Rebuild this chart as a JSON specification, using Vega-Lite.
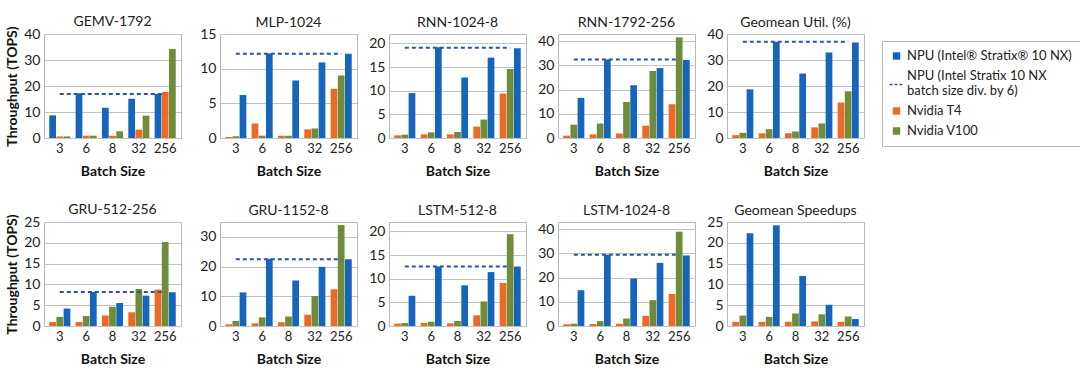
{
  "$schema": "https://vega.github.io/schema/vega-lite/v6.json",
  "padding": {"left": 5, "top": 14, "right": 5, "bottom": 5},
  "background": "white",
  "datasets": {
    "bars": [
      {"panel": "GEMV-1792", "batch": "3", "series": "NPU (Intel® Stratix® 10 NX)", "value": 8.7},
      {"panel": "GEMV-1792", "batch": "3", "series": "Nvidia T4", "value": 0.6},
      {"panel": "GEMV-1792", "batch": "3", "series": "Nvidia V100", "value": 0.6},
      {"panel": "GEMV-1792", "batch": "6", "series": "NPU (Intel® Stratix® 10 NX)", "value": 17.2},
      {"panel": "GEMV-1792", "batch": "6", "series": "Nvidia T4", "value": 0.9},
      {"panel": "GEMV-1792", "batch": "6", "series": "Nvidia V100", "value": 0.9},
      {"panel": "GEMV-1792", "batch": "8", "series": "NPU (Intel® Stratix® 10 NX)", "value": 11.6},
      {"panel": "GEMV-1792", "batch": "8", "series": "Nvidia T4", "value": 0.9},
      {"panel": "GEMV-1792", "batch": "8", "series": "Nvidia V100", "value": 2.6},
      {"panel": "GEMV-1792", "batch": "32", "series": "NPU (Intel® Stratix® 10 NX)", "value": 15.1},
      {"panel": "GEMV-1792", "batch": "32", "series": "Nvidia T4", "value": 3.2},
      {"panel": "GEMV-1792", "batch": "32", "series": "Nvidia V100", "value": 8.6},
      {"panel": "GEMV-1792", "batch": "256", "series": "NPU (Intel® Stratix® 10 NX)", "value": 16.9},
      {"panel": "GEMV-1792", "batch": "256", "series": "Nvidia T4", "value": 17.7},
      {"panel": "GEMV-1792", "batch": "256", "series": "Nvidia V100", "value": 34.2},

      {"panel": "MLP-1024", "batch": "3", "series": "NPU (Intel® Stratix® 10 NX)", "value": 6.2},
      {"panel": "MLP-1024", "batch": "3", "series": "Nvidia T4", "value": 0.15},
      {"panel": "MLP-1024", "batch": "3", "series": "Nvidia V100", "value": 0.25},
      {"panel": "MLP-1024", "batch": "6", "series": "NPU (Intel® Stratix® 10 NX)", "value": 12.2},
      {"panel": "MLP-1024", "batch": "6", "series": "Nvidia T4", "value": 2.1},
      {"panel": "MLP-1024", "batch": "6", "series": "Nvidia V100", "value": 0.33},
      {"panel": "MLP-1024", "batch": "8", "series": "NPU (Intel® Stratix® 10 NX)", "value": 8.3},
      {"panel": "MLP-1024", "batch": "8", "series": "Nvidia T4", "value": 0.33},
      {"panel": "MLP-1024", "batch": "8", "series": "Nvidia V100", "value": 0.33},
      {"panel": "MLP-1024", "batch": "32", "series": "NPU (Intel® Stratix® 10 NX)", "value": 10.9},
      {"panel": "MLP-1024", "batch": "32", "series": "Nvidia T4", "value": 1.25},
      {"panel": "MLP-1024", "batch": "32", "series": "Nvidia V100", "value": 1.38},
      {"panel": "MLP-1024", "batch": "256", "series": "NPU (Intel® Stratix® 10 NX)", "value": 12.15},
      {"panel": "MLP-1024", "batch": "256", "series": "Nvidia T4", "value": 7.1},
      {"panel": "MLP-1024", "batch": "256", "series": "Nvidia V100", "value": 9.0},

      {"panel": "RNN-1024-8", "batch": "3", "series": "NPU (Intel® Stratix® 10 NX)", "value": 9.5},
      {"panel": "RNN-1024-8", "batch": "3", "series": "Nvidia T4", "value": 0.56},
      {"panel": "RNN-1024-8", "batch": "3", "series": "Nvidia V100", "value": 0.7},
      {"panel": "RNN-1024-8", "batch": "6", "series": "NPU (Intel® Stratix® 10 NX)", "value": 19.2},
      {"panel": "RNN-1024-8", "batch": "6", "series": "Nvidia T4", "value": 0.77},
      {"panel": "RNN-1024-8", "batch": "6", "series": "Nvidia V100", "value": 1.2},
      {"panel": "RNN-1024-8", "batch": "8", "series": "NPU (Intel® Stratix® 10 NX)", "value": 12.8},
      {"panel": "RNN-1024-8", "batch": "8", "series": "Nvidia T4", "value": 0.77},
      {"panel": "RNN-1024-8", "batch": "8", "series": "Nvidia V100", "value": 1.26},
      {"panel": "RNN-1024-8", "batch": "32", "series": "NPU (Intel® Stratix® 10 NX)", "value": 17.0},
      {"panel": "RNN-1024-8", "batch": "32", "series": "Nvidia T4", "value": 2.4},
      {"panel": "RNN-1024-8", "batch": "32", "series": "Nvidia V100", "value": 3.9},
      {"panel": "RNN-1024-8", "batch": "256", "series": "NPU (Intel® Stratix® 10 NX)", "value": 19.0},
      {"panel": "RNN-1024-8", "batch": "256", "series": "Nvidia T4", "value": 9.4},
      {"panel": "RNN-1024-8", "batch": "256", "series": "Nvidia V100", "value": 14.6},

      {"panel": "RNN-1792-256", "batch": "3", "series": "NPU (Intel® Stratix® 10 NX)", "value": 16.6},
      {"panel": "RNN-1792-256", "batch": "3", "series": "Nvidia T4", "value": 0.96},
      {"panel": "RNN-1792-256", "batch": "3", "series": "Nvidia V100", "value": 5.5},
      {"panel": "RNN-1792-256", "batch": "6", "series": "NPU (Intel® Stratix® 10 NX)", "value": 32.5},
      {"panel": "RNN-1792-256", "batch": "6", "series": "Nvidia T4", "value": 1.5},
      {"panel": "RNN-1792-256", "batch": "6", "series": "Nvidia V100", "value": 6.0},
      {"panel": "RNN-1792-256", "batch": "8", "series": "NPU (Intel® Stratix® 10 NX)", "value": 21.8},
      {"panel": "RNN-1792-256", "batch": "8", "series": "Nvidia T4", "value": 1.9},
      {"panel": "RNN-1792-256", "batch": "8", "series": "Nvidia V100", "value": 14.9},
      {"panel": "RNN-1792-256", "batch": "32", "series": "NPU (Intel® Stratix® 10 NX)", "value": 28.9},
      {"panel": "RNN-1792-256", "batch": "32", "series": "Nvidia T4", "value": 5.1},
      {"panel": "RNN-1792-256", "batch": "32", "series": "Nvidia V100", "value": 27.7},
      {"panel": "RNN-1792-256", "batch": "256", "series": "NPU (Intel® Stratix® 10 NX)", "value": 32.2},
      {"panel": "RNN-1792-256", "batch": "256", "series": "Nvidia T4", "value": 14.0},
      {"panel": "RNN-1792-256", "batch": "256", "series": "Nvidia V100", "value": 41.6},

      {"panel": "Geomean Util. (%)", "batch": "3", "series": "NPU (Intel® Stratix® 10 NX)", "value": 18.7},
      {"panel": "Geomean Util. (%)", "batch": "3", "series": "Nvidia T4", "value": 1.1},
      {"panel": "Geomean Util. (%)", "batch": "3", "series": "Nvidia V100", "value": 2.0},
      {"panel": "Geomean Util. (%)", "batch": "6", "series": "NPU (Intel® Stratix® 10 NX)", "value": 37.0},
      {"panel": "Geomean Util. (%)", "batch": "6", "series": "Nvidia T4", "value": 1.8},
      {"panel": "Geomean Util. (%)", "batch": "6", "series": "Nvidia V100", "value": 3.4},
      {"panel": "Geomean Util. (%)", "batch": "8", "series": "NPU (Intel® Stratix® 10 NX)", "value": 24.8},
      {"panel": "Geomean Util. (%)", "batch": "8", "series": "Nvidia T4", "value": 1.8},
      {"panel": "Geomean Util. (%)", "batch": "8", "series": "Nvidia V100", "value": 2.5},
      {"panel": "Geomean Util. (%)", "batch": "32", "series": "NPU (Intel® Stratix® 10 NX)", "value": 32.9},
      {"panel": "Geomean Util. (%)", "batch": "32", "series": "Nvidia T4", "value": 4.1},
      {"panel": "Geomean Util. (%)", "batch": "32", "series": "Nvidia V100", "value": 5.6},
      {"panel": "Geomean Util. (%)", "batch": "256", "series": "NPU (Intel® Stratix® 10 NX)", "value": 36.7},
      {"panel": "Geomean Util. (%)", "batch": "256", "series": "Nvidia T4", "value": 13.7},
      {"panel": "Geomean Util. (%)", "batch": "256", "series": "Nvidia V100", "value": 18.0},

      {"panel": "GRU-512-256", "batch": "3", "series": "NPU (Intel® Stratix® 10 NX)", "value": 4.2},
      {"panel": "GRU-512-256", "batch": "3", "series": "Nvidia T4", "value": 0.96},
      {"panel": "GRU-512-256", "batch": "3", "series": "Nvidia V100", "value": 2.2},
      {"panel": "GRU-512-256", "batch": "6", "series": "NPU (Intel® Stratix® 10 NX)", "value": 8.2},
      {"panel": "GRU-512-256", "batch": "6", "series": "Nvidia T4", "value": 0.96},
      {"panel": "GRU-512-256", "batch": "6", "series": "Nvidia V100", "value": 2.4},
      {"panel": "GRU-512-256", "batch": "8", "series": "NPU (Intel® Stratix® 10 NX)", "value": 5.5},
      {"panel": "GRU-512-256", "batch": "8", "series": "Nvidia T4", "value": 2.5},
      {"panel": "GRU-512-256", "batch": "8", "series": "Nvidia V100", "value": 4.6},
      {"panel": "GRU-512-256", "batch": "32", "series": "NPU (Intel® Stratix® 10 NX)", "value": 7.3},
      {"panel": "GRU-512-256", "batch": "32", "series": "Nvidia T4", "value": 3.3},
      {"panel": "GRU-512-256", "batch": "32", "series": "Nvidia V100", "value": 8.9},
      {"panel": "GRU-512-256", "batch": "256", "series": "NPU (Intel® Stratix® 10 NX)", "value": 8.1},
      {"panel": "GRU-512-256", "batch": "256", "series": "Nvidia T4", "value": 8.8},
      {"panel": "GRU-512-256", "batch": "256", "series": "Nvidia V100", "value": 20.2},

      {"panel": "GRU-1152-8", "batch": "3", "series": "NPU (Intel® Stratix® 10 NX)", "value": 11.3},
      {"panel": "GRU-1152-8", "batch": "3", "series": "Nvidia T4", "value": 0.56},
      {"panel": "GRU-1152-8", "batch": "3", "series": "Nvidia V100", "value": 1.7},
      {"panel": "GRU-1152-8", "batch": "6", "series": "NPU (Intel® Stratix® 10 NX)", "value": 22.6},
      {"panel": "GRU-1152-8", "batch": "6", "series": "Nvidia T4", "value": 0.9},
      {"panel": "GRU-1152-8", "batch": "6", "series": "Nvidia V100", "value": 2.9},
      {"panel": "GRU-1152-8", "batch": "8", "series": "NPU (Intel® Stratix® 10 NX)", "value": 15.3},
      {"panel": "GRU-1152-8", "batch": "8", "series": "Nvidia T4", "value": 1.3},
      {"panel": "GRU-1152-8", "batch": "8", "series": "Nvidia V100", "value": 3.2},
      {"panel": "GRU-1152-8", "batch": "32", "series": "NPU (Intel® Stratix® 10 NX)", "value": 19.9},
      {"panel": "GRU-1152-8", "batch": "32", "series": "Nvidia T4", "value": 3.8},
      {"panel": "GRU-1152-8", "batch": "32", "series": "Nvidia V100", "value": 10.1},
      {"panel": "GRU-1152-8", "batch": "256", "series": "NPU (Intel® Stratix® 10 NX)", "value": 22.5},
      {"panel": "GRU-1152-8", "batch": "256", "series": "Nvidia T4", "value": 12.4},
      {"panel": "GRU-1152-8", "batch": "256", "series": "Nvidia V100", "value": 34.0},

      {"panel": "LSTM-512-8", "batch": "3", "series": "NPU (Intel® Stratix® 10 NX)", "value": 6.4},
      {"panel": "LSTM-512-8", "batch": "3", "series": "Nvidia T4", "value": 0.5},
      {"panel": "LSTM-512-8", "batch": "3", "series": "Nvidia V100", "value": 0.63},
      {"panel": "LSTM-512-8", "batch": "6", "series": "NPU (Intel® Stratix® 10 NX)", "value": 12.6},
      {"panel": "LSTM-512-8", "batch": "6", "series": "Nvidia T4", "value": 0.63},
      {"panel": "LSTM-512-8", "batch": "6", "series": "Nvidia V100", "value": 0.9},
      {"panel": "LSTM-512-8", "batch": "8", "series": "NPU (Intel® Stratix® 10 NX)", "value": 8.6},
      {"panel": "LSTM-512-8", "batch": "8", "series": "Nvidia T4", "value": 0.56},
      {"panel": "LSTM-512-8", "batch": "8", "series": "Nvidia V100", "value": 1.05},
      {"panel": "LSTM-512-8", "batch": "32", "series": "NPU (Intel® Stratix® 10 NX)", "value": 11.4},
      {"panel": "LSTM-512-8", "batch": "32", "series": "Nvidia T4", "value": 2.25},
      {"panel": "LSTM-512-8", "batch": "32", "series": "Nvidia V100", "value": 5.2},
      {"panel": "LSTM-512-8", "batch": "256", "series": "NPU (Intel® Stratix® 10 NX)", "value": 12.6},
      {"panel": "LSTM-512-8", "batch": "256", "series": "Nvidia T4", "value": 9.1},
      {"panel": "LSTM-512-8", "batch": "256", "series": "Nvidia V100", "value": 19.4},

      {"panel": "LSTM-1024-8", "batch": "3", "series": "NPU (Intel® Stratix® 10 NX)", "value": 14.8},
      {"panel": "LSTM-1024-8", "batch": "3", "series": "Nvidia T4", "value": 0.7},
      {"panel": "LSTM-1024-8", "batch": "3", "series": "Nvidia V100", "value": 0.95},
      {"panel": "LSTM-1024-8", "batch": "6", "series": "NPU (Intel® Stratix® 10 NX)", "value": 29.5},
      {"panel": "LSTM-1024-8", "batch": "6", "series": "Nvidia T4", "value": 0.8},
      {"panel": "LSTM-1024-8", "batch": "6", "series": "Nvidia V100", "value": 2.0},
      {"panel": "LSTM-1024-8", "batch": "8", "series": "NPU (Intel® Stratix® 10 NX)", "value": 19.6},
      {"panel": "LSTM-1024-8", "batch": "8", "series": "Nvidia T4", "value": 0.95},
      {"panel": "LSTM-1024-8", "batch": "8", "series": "Nvidia V100", "value": 3.1},
      {"panel": "LSTM-1024-8", "batch": "32", "series": "NPU (Intel® Stratix® 10 NX)", "value": 26.1},
      {"panel": "LSTM-1024-8", "batch": "32", "series": "Nvidia T4", "value": 4.2},
      {"panel": "LSTM-1024-8", "batch": "32", "series": "Nvidia V100", "value": 10.7},
      {"panel": "LSTM-1024-8", "batch": "256", "series": "NPU (Intel® Stratix® 10 NX)", "value": 29.1},
      {"panel": "LSTM-1024-8", "batch": "256", "series": "Nvidia T4", "value": 13.2},
      {"panel": "LSTM-1024-8", "batch": "256", "series": "Nvidia V100", "value": 39.0},

      {"panel": "Geomean Speedups", "batch": "3", "series": "NPU (Intel® Stratix® 10 NX)", "value": 22.3},
      {"panel": "Geomean Speedups", "batch": "3", "series": "Nvidia T4", "value": 1.0},
      {"panel": "Geomean Speedups", "batch": "3", "series": "Nvidia V100", "value": 2.5},
      {"panel": "Geomean Speedups", "batch": "6", "series": "NPU (Intel® Stratix® 10 NX)", "value": 24.2},
      {"panel": "Geomean Speedups", "batch": "6", "series": "Nvidia T4", "value": 1.0},
      {"panel": "Geomean Speedups", "batch": "6", "series": "Nvidia V100", "value": 2.2},
      {"panel": "Geomean Speedups", "batch": "8", "series": "NPU (Intel® Stratix® 10 NX)", "value": 12.0},
      {"panel": "Geomean Speedups", "batch": "8", "series": "Nvidia T4", "value": 1.0},
      {"panel": "Geomean Speedups", "batch": "8", "series": "Nvidia V100", "value": 3.0},
      {"panel": "Geomean Speedups", "batch": "32", "series": "NPU (Intel® Stratix® 10 NX)", "value": 5.1},
      {"panel": "Geomean Speedups", "batch": "32", "series": "Nvidia T4", "value": 1.1},
      {"panel": "Geomean Speedups", "batch": "32", "series": "Nvidia V100", "value": 2.8},
      {"panel": "Geomean Speedups", "batch": "256", "series": "NPU (Intel® Stratix® 10 NX)", "value": 1.7},
      {"panel": "Geomean Speedups", "batch": "256", "series": "Nvidia T4", "value": 1.0},
      {"panel": "Geomean Speedups", "batch": "256", "series": "Nvidia V100", "value": 2.3}
    ],
    "dash": [
      {"panel": "GEMV-1792", "value": 16.9},
      {"panel": "MLP-1024", "value": 12.15},
      {"panel": "RNN-1024-8", "value": 19.1},
      {"panel": "RNN-1792-256", "value": 32.5},
      {"panel": "Geomean Util. (%)", "value": 37.0},
      {"panel": "GRU-512-256", "value": 8.2},
      {"panel": "GRU-1152-8", "value": 22.5},
      {"panel": "LSTM-512-8", "value": 12.6},
      {"panel": "LSTM-1024-8", "value": 29.5}
    ]
  },
  "vconcat": [
    {"hconcat": [
      {"title": {"text": "GEMV-1792", "offset": -3}, "width": 137, "height": 104, "layer": [
        {"data": {"name": "bars"}, "transform": [{"filter": {"field": "panel", "equal": "GEMV-1792"}}], "mark": "bar",
         "encoding": {
           "x": {"field": "batch", "type": "nominal", "sort": ["3","6","8","32","256"], "title": "Batch Size"},
           "xOffset": {"field": "series", "type": "nominal", "scale": {"domain": ["NPU (Intel® Stratix® 10 NX)","Nvidia T4","Nvidia V100"]}},
           "y": {"field": "value", "type": "quantitative", "title": "Throughput (TOPS)", "scale": {"domain": [0,40], "nice": false}, "axis": {"values": [0,10,20,30,40]}},
           "color": {"field": "series", "type": "nominal",
             "scale": {"domain": ["NPU (Intel® Stratix® 10 NX)","NPU (Intel Stratix 10 NX batch size div. by 6)","Nvidia T4","Nvidia V100"], "range": ["#1565bd","#2a5599","#ec6a26","#6f8c3b"]},
             "legend": {"title": null, "orient": "none", "legendX": 838, "legendY": 7, "strokeColor": "#b5b5b5", "padding": 8,
               "labelFontSize": 13, "labelColor": "#222", "rowPadding": 6, "symbolType": "square", "symbolSize": 55, "labelLimit": 300,
               "labelExpr": "datum.value == 'NPU (Intel Stratix 10 NX batch size div. by 6)' ? ['NPU (Intel Stratix 10 NX', 'batch size div. by 6)'] : datum.label",
               "encode": {"symbols": {"update": {
                 "shape": {"signal": "datum.value == 'NPU (Intel Stratix 10 NX batch size div. by 6)' ? 'stroke' : 'square'"},
                 "size": {"signal": "datum.value == 'NPU (Intel Stratix 10 NX batch size div. by 6)' ? 196 : 55"},
                 "y": {"signal": "datum.value == 'NPU (Intel Stratix 10 NX batch size div. by 6)' ? 15.5 : 7"},
                 "fill": {"signal": "datum.value == 'NPU (Intel Stratix 10 NX batch size div. by 6)' ? 'transparent' : scale('color', datum.value)"},
                 "stroke": {"signal": "datum.value == 'NPU (Intel Stratix 10 NX batch size div. by 6)' ? '#2a5599' : 'transparent'"},
                 "strokeDash": {"signal": "datum.value == 'NPU (Intel Stratix 10 NX batch size div. by 6)' ? [3,2] : [1,0]"},
                 "strokeWidth": {"value": 1.5},
                 "opacity": {"value": 1}
               }}}}}
         }},
        {"data": {"name": "dash"}, "transform": [{"filter": {"field": "panel", "equal": "GEMV-1792"}}],
         "mark": {"type": "rule", "color": "#2a5599", "strokeDash": [4,3], "strokeWidth": 2},
         "encoding": {"x": {"datum": "3", "type": "nominal"}, "x2": {"datum": "256"}, "y": {"field": "value", "type": "quantitative", "title": "Throughput (TOPS)", "axis": {"values": [0,10,20,30,40]}}}}
      ]},
      {"title": {"text": "MLP-1024", "offset": -3}, "width": 137, "height": 104, "layer": [
        {"data": {"name": "bars"}, "transform": [{"filter": {"field": "panel", "equal": "MLP-1024"}}], "mark": "bar",
         "encoding": {
           "x": {"field": "batch", "type": "nominal", "sort": ["3","6","8","32","256"], "title": "Batch Size"},
           "xOffset": {"field": "series", "type": "nominal", "scale": {"domain": ["Nvidia T4","Nvidia V100","NPU (Intel® Stratix® 10 NX)"]}},
           "y": {"field": "value", "type": "quantitative", "title": null, "scale": {"domain": [0,15], "nice": false}, "axis": {"values": [0,5,10,15], "minExtent": 27}},
           "color": {"field": "series", "type": "nominal", "scale": {"domain": ["NPU (Intel® Stratix® 10 NX)","NPU (Intel Stratix 10 NX batch size div. by 6)","Nvidia T4","Nvidia V100"], "range": ["#1565bd","#2a5599","#ec6a26","#6f8c3b"]}, "legend": null}
         }},
        {"data": {"name": "dash"}, "transform": [{"filter": {"field": "panel", "equal": "MLP-1024"}}],
         "mark": {"type": "rule", "color": "#2a5599", "strokeDash": [4,3], "strokeWidth": 2},
         "encoding": {"x": {"datum": "3", "type": "nominal"}, "x2": {"datum": "256"}, "y": {"field": "value", "type": "quantitative", "title": null, "axis": {"values": [0,5,10,15], "minExtent": 27}}}}
      ]},
      {"title": {"text": "RNN-1024-8", "offset": 4}, "width": 137, "height": 104, "layer": [
        {"data": {"name": "bars"}, "transform": [{"filter": {"field": "panel", "equal": "RNN-1024-8"}}], "mark": "bar",
         "encoding": {
           "x": {"field": "batch", "type": "nominal", "sort": ["3","6","8","32","256"], "title": "Batch Size"},
           "xOffset": {"field": "series", "type": "nominal", "scale": {"domain": ["Nvidia T4","Nvidia V100","NPU (Intel® Stratix® 10 NX)"]}},
           "y": {"field": "value", "type": "quantitative", "title": null, "scale": {"domain": [0,22], "nice": false}, "axis": {"values": [0,5,10,15,20]}},
           "color": {"field": "series", "type": "nominal", "scale": {"domain": ["NPU (Intel® Stratix® 10 NX)","NPU (Intel Stratix 10 NX batch size div. by 6)","Nvidia T4","Nvidia V100"], "range": ["#1565bd","#2a5599","#ec6a26","#6f8c3b"]}, "legend": null}
         }},
        {"data": {"name": "dash"}, "transform": [{"filter": {"field": "panel", "equal": "RNN-1024-8"}}],
         "mark": {"type": "rule", "color": "#2a5599", "strokeDash": [4,3], "strokeWidth": 2},
         "encoding": {"x": {"datum": "3", "type": "nominal"}, "x2": {"datum": "256"}, "y": {"field": "value", "type": "quantitative", "title": null, "axis": {"values": [0,5,10,15,20]}}}}
      ]},
      {"title": {"text": "RNN-1792-256", "offset": 4}, "width": 137, "height": 104, "layer": [
        {"data": {"name": "bars"}, "transform": [{"filter": {"field": "panel", "equal": "RNN-1792-256"}}], "mark": "bar",
         "encoding": {
           "x": {"field": "batch", "type": "nominal", "sort": ["3","6","8","32","256"], "title": "Batch Size"},
           "xOffset": {"field": "series", "type": "nominal", "scale": {"domain": ["Nvidia T4","Nvidia V100","NPU (Intel® Stratix® 10 NX)"]}},
           "y": {"field": "value", "type": "quantitative", "title": null, "scale": {"domain": [0,43], "nice": false}, "axis": {"values": [0,10,20,30,40]}},
           "color": {"field": "series", "type": "nominal", "scale": {"domain": ["NPU (Intel® Stratix® 10 NX)","NPU (Intel Stratix 10 NX batch size div. by 6)","Nvidia T4","Nvidia V100"], "range": ["#1565bd","#2a5599","#ec6a26","#6f8c3b"]}, "legend": null}
         }},
        {"data": {"name": "dash"}, "transform": [{"filter": {"field": "panel", "equal": "RNN-1792-256"}}],
         "mark": {"type": "rule", "color": "#2a5599", "strokeDash": [4,3], "strokeWidth": 2},
         "encoding": {"x": {"datum": "3", "type": "nominal"}, "x2": {"datum": "256"}, "y": {"field": "value", "type": "quantitative", "title": null, "axis": {"values": [0,10,20,30,40]}}}}
      ]},
      {"title": {"text": "Geomean Util. (%)", "offset": -3}, "width": 137, "height": 104, "layer": [
        {"data": {"name": "bars"}, "transform": [{"filter": {"field": "panel", "equal": "Geomean Util. (%)"}}], "mark": "bar",
         "encoding": {
           "x": {"field": "batch", "type": "nominal", "sort": ["3","6","8","32","256"], "title": "Batch Size"},
           "xOffset": {"field": "series", "type": "nominal", "scale": {"domain": ["Nvidia T4","Nvidia V100","NPU (Intel® Stratix® 10 NX)"]}},
           "y": {"field": "value", "type": "quantitative", "title": null, "scale": {"domain": [0,40], "nice": false}, "axis": {"values": [0,10,20,30,40]}},
           "color": {"field": "series", "type": "nominal", "scale": {"domain": ["NPU (Intel® Stratix® 10 NX)","NPU (Intel Stratix 10 NX batch size div. by 6)","Nvidia T4","Nvidia V100"], "range": ["#1565bd","#2a5599","#ec6a26","#6f8c3b"]}, "legend": null}
         }},
        {"data": {"name": "dash"}, "transform": [{"filter": {"field": "panel", "equal": "Geomean Util. (%)"}}],
         "mark": {"type": "rule", "color": "#2a5599", "strokeDash": [4,3], "strokeWidth": 2},
         "encoding": {"x": {"datum": "3", "type": "nominal"}, "x2": {"datum": "256"}, "y": {"field": "value", "type": "quantitative", "title": null, "axis": {"values": [0,10,20,30,40]}}}}
      ]}
    ], "resolve": {"scale": {"x": "independent", "y": "independent", "xOffset": "independent"}}},
    {"hconcat": [
      {"title": {"text": "GRU-512-256", "offset": -3}, "width": 137, "height": 104, "layer": [
        {"data": {"name": "bars"}, "transform": [{"filter": {"field": "panel", "equal": "GRU-512-256"}}], "mark": "bar",
         "encoding": {
           "x": {"field": "batch", "type": "nominal", "sort": ["3","6","8","32","256"], "title": "Batch Size"},
           "xOffset": {"field": "series", "type": "nominal", "scale": {"domain": ["Nvidia T4","Nvidia V100","NPU (Intel® Stratix® 10 NX)"]}},
           "y": {"field": "value", "type": "quantitative", "title": "Throughput (TOPS)", "scale": {"domain": [0,25], "nice": false}, "axis": {"values": [0,5,10,15,20,25]}},
           "color": {"field": "series", "type": "nominal", "scale": {"domain": ["NPU (Intel® Stratix® 10 NX)","NPU (Intel Stratix 10 NX batch size div. by 6)","Nvidia T4","Nvidia V100"], "range": ["#1565bd","#2a5599","#ec6a26","#6f8c3b"]}, "legend": null}
         }},
        {"data": {"name": "dash"}, "transform": [{"filter": {"field": "panel", "equal": "GRU-512-256"}}],
         "mark": {"type": "rule", "color": "#2a5599", "strokeDash": [4,3], "strokeWidth": 2},
         "encoding": {"x": {"datum": "3", "type": "nominal"}, "x2": {"datum": "256"}, "y": {"field": "value", "type": "quantitative", "title": "Throughput (TOPS)", "axis": {"values": [0,5,10,15,20,25]}}}}
      ]},
      {"title": {"text": "GRU-1152-8", "offset": 4}, "width": 137, "height": 104, "layer": [
        {"data": {"name": "bars"}, "transform": [{"filter": {"field": "panel", "equal": "GRU-1152-8"}}], "mark": "bar",
         "encoding": {
           "x": {"field": "batch", "type": "nominal", "sort": ["3","6","8","32","256"], "title": "Batch Size"},
           "xOffset": {"field": "series", "type": "nominal", "scale": {"domain": ["Nvidia T4","Nvidia V100","NPU (Intel® Stratix® 10 NX)"]}},
           "y": {"field": "value", "type": "quantitative", "title": null, "scale": {"domain": [0,35], "nice": false}, "axis": {"values": [0,10,20,30], "minExtent": 27}},
           "color": {"field": "series", "type": "nominal", "scale": {"domain": ["NPU (Intel® Stratix® 10 NX)","NPU (Intel Stratix 10 NX batch size div. by 6)","Nvidia T4","Nvidia V100"], "range": ["#1565bd","#2a5599","#ec6a26","#6f8c3b"]}, "legend": null}
         }},
        {"data": {"name": "dash"}, "transform": [{"filter": {"field": "panel", "equal": "GRU-1152-8"}}],
         "mark": {"type": "rule", "color": "#2a5599", "strokeDash": [4,3], "strokeWidth": 2},
         "encoding": {"x": {"datum": "3", "type": "nominal"}, "x2": {"datum": "256"}, "y": {"field": "value", "type": "quantitative", "title": null, "axis": {"values": [0,10,20,30], "minExtent": 27}}}}
      ]},
      {"title": {"text": "LSTM-512-8", "offset": 4}, "width": 137, "height": 104, "layer": [
        {"data": {"name": "bars"}, "transform": [{"filter": {"field": "panel", "equal": "LSTM-512-8"}}], "mark": "bar",
         "encoding": {
           "x": {"field": "batch", "type": "nominal", "sort": ["3","6","8","32","256"], "title": "Batch Size"},
           "xOffset": {"field": "series", "type": "nominal", "scale": {"domain": ["Nvidia T4","Nvidia V100","NPU (Intel® Stratix® 10 NX)"]}},
           "y": {"field": "value", "type": "quantitative", "title": null, "scale": {"domain": [0,22], "nice": false}, "axis": {"values": [0,5,10,15,20]}},
           "color": {"field": "series", "type": "nominal", "scale": {"domain": ["NPU (Intel® Stratix® 10 NX)","NPU (Intel Stratix 10 NX batch size div. by 6)","Nvidia T4","Nvidia V100"], "range": ["#1565bd","#2a5599","#ec6a26","#6f8c3b"]}, "legend": null}
         }},
        {"data": {"name": "dash"}, "transform": [{"filter": {"field": "panel", "equal": "LSTM-512-8"}}],
         "mark": {"type": "rule", "color": "#2a5599", "strokeDash": [4,3], "strokeWidth": 2},
         "encoding": {"x": {"datum": "3", "type": "nominal"}, "x2": {"datum": "256"}, "y": {"field": "value", "type": "quantitative", "title": null, "axis": {"values": [0,5,10,15,20]}}}}
      ]},
      {"title": {"text": "LSTM-1024-8", "offset": 4}, "width": 137, "height": 104, "layer": [
        {"data": {"name": "bars"}, "transform": [{"filter": {"field": "panel", "equal": "LSTM-1024-8"}}], "mark": "bar",
         "encoding": {
           "x": {"field": "batch", "type": "nominal", "sort": ["3","6","8","32","256"], "title": "Batch Size"},
           "xOffset": {"field": "series", "type": "nominal", "scale": {"domain": ["Nvidia T4","Nvidia V100","NPU (Intel® Stratix® 10 NX)"]}},
           "y": {"field": "value", "type": "quantitative", "title": null, "scale": {"domain": [0,43], "nice": false}, "axis": {"values": [0,10,20,30,40]}},
           "color": {"field": "series", "type": "nominal", "scale": {"domain": ["NPU (Intel® Stratix® 10 NX)","NPU (Intel Stratix 10 NX batch size div. by 6)","Nvidia T4","Nvidia V100"], "range": ["#1565bd","#2a5599","#ec6a26","#6f8c3b"]}, "legend": null}
         }},
        {"data": {"name": "dash"}, "transform": [{"filter": {"field": "panel", "equal": "LSTM-1024-8"}}],
         "mark": {"type": "rule", "color": "#2a5599", "strokeDash": [4,3], "strokeWidth": 2},
         "encoding": {"x": {"datum": "3", "type": "nominal"}, "x2": {"datum": "256"}, "y": {"field": "value", "type": "quantitative", "title": null, "axis": {"values": [0,10,20,30,40]}}}}
      ]},
      {"title": {"text": "Geomean Speedups", "offset": -3}, "width": 137, "height": 104, "layer": [
        {"data": {"name": "bars"}, "transform": [{"filter": {"field": "panel", "equal": "Geomean Speedups"}}], "mark": "bar",
         "encoding": {
           "x": {"field": "batch", "type": "nominal", "sort": ["3","6","8","32","256"], "title": "Batch Size"},
           "xOffset": {"field": "series", "type": "nominal", "scale": {"domain": ["Nvidia T4","Nvidia V100","NPU (Intel® Stratix® 10 NX)"]}},
           "y": {"field": "value", "type": "quantitative", "title": null, "scale": {"domain": [0,25], "nice": false}, "axis": {"values": [0,5,10,15,20,25]}},
           "color": {"field": "series", "type": "nominal", "scale": {"domain": ["NPU (Intel® Stratix® 10 NX)","NPU (Intel Stratix 10 NX batch size div. by 6)","Nvidia T4","Nvidia V100"], "range": ["#1565bd","#2a5599","#ec6a26","#6f8c3b"]}, "legend": null}
         }}
      ]}
    ], "resolve": {"scale": {"x": "independent", "y": "independent", "xOffset": "independent"}}}
  ],
  "resolve": {"scale": {"x": "independent", "y": "independent", "xOffset": "independent"}},
  "spacing": 23,
  "config": {
    "font": "Lato",
    "view": {"stroke": "#b8b8b8", "strokeWidth": 1},
    "concat": {"spacing": 10},
    "scale": {"bandPaddingInner": 0.15, "bandPaddingOuter": 0.05, "offsetBandPaddingInner": 0.06},
    "title": {"fontSize": 14, "fontWeight": "normal", "color": "#222", "frame": "group"},
    "axis": {"labelFontSize": 13, "labelColor": "#222", "titleFontSize": 14, "titleFontWeight": "bold", "titleColor": "#111", "ticks": false, "domain": false},
    "axisX": {"grid": false, "labelAngle": 0, "labelPadding": 4, "titlePadding": 9},
    "axisY": {"grid": true, "gridColor": "#c2c2c2", "labelPadding": 4, "titlePadding": 4, "labelOverlap": false, "labelFontSize": 14, "titleFontSize": 14}
  }
}
